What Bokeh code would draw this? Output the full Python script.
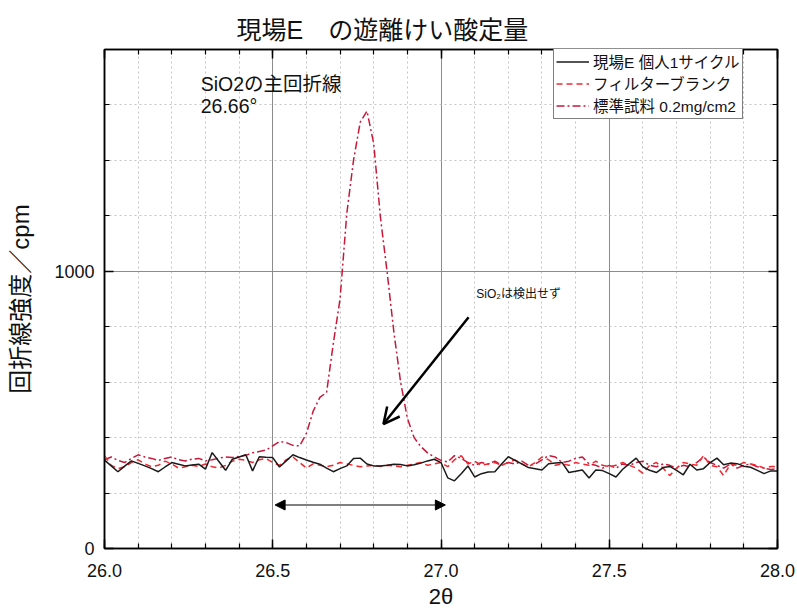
from bokeh.plotting import figure
from bokeh.models import (Range1d, FixedTicker, PrintfTickFormatter, LinearAxis, Label,
                          Arrow, OpenHead, NormalHead, Legend, LegendItem, ColumnDataSource)
from bokeh.embed import file_html
from bokeh.resources import INLINE

# ---------------- data ----------------
two_theta = [round(26.0 + 0.02 * i, 2) for i in range(101)]

site_e_personal = [
    319, 298, 277, 297, 316, 307, 298, 288, 277, 294,
    310, 304, 298, 301, 304, 286, 346, 314, 282, 322,
    330, 338, 280, 331, 329, 328, 294, 316, 338, 328,
    319, 311, 304, 290, 277, 288, 298, 325, 326, 305,
    298, 298, 300, 304, 303, 298, 302, 308, 316, 322,
    310, 255, 244, 270, 298, 258, 270, 276, 277, 305,
    331, 318, 305, 292, 288, 283, 306, 308, 310, 274,
    279, 283, 254, 283, 281, 270, 258, 286, 306, 326,
    295, 282, 274, 292, 296, 282, 266, 304, 283, 288,
    310, 326, 302, 308, 306, 297, 293, 282, 270, 280,
    280,
]

filter_blank = [
    335, 300, 288, 295, 310, 320, 305, 295, 300, 315,
    305, 290, 295, 300, 296, 305, 295, 290, 300, 315,
    322, 318, 310, 320, 325, 310, 300, 320, 330, 310,
    290, 305, 300, 295, 300, 310, 305, 300, 295, 298,
    300, 296, 300, 298, 295, 300, 305, 310, 300, 305,
    310, 295, 320, 335, 305, 315, 300, 305, 310, 300,
    310, 320, 305, 295, 310, 330, 320, 300, 305, 300,
    310, 305, 300, 315, 300, 295, 300, 310, 300, 290,
    271, 300, 310, 290, 263, 290, 310, 305, 300, 335,
    300, 295, 263, 305, 300, 310, 305, 300, 290, 296,
    295,
]

standard_sample = [
    320, 330, 318, 310, 325, 338, 330, 325, 318, 325,
    330, 320, 316, 322, 325, 316, 320, 326, 330, 328,
    332, 336, 345, 350, 355, 370, 386, 382, 372, 370,
    415, 495, 545, 563, 740, 900, 1208, 1400, 1538, 1578,
    1461, 1195, 996, 780, 600, 470, 400, 368, 345, 330,
    318, 312, 335, 325, 310, 300, 310, 305, 315, 300,
    310, 305, 315, 300, 305, 320, 335, 330, 310, 315,
    325, 330, 305, 300, 290, 300, 290, 305, 300, 310,
    315, 300, 295, 305, 300, 290, 300, 295, 310, 330,
    310, 300, 290, 305, 290, 300, 305, 295, 290, 285,
    288,
]

series_names = ["現場E 個人1サイクル", "フィルターブランク", "標準試料 0.2mg/cm2"]

x_major_ticks = [26.0, 26.5, 27.0, 27.5, 28.0]
x_minor_ticks = [round(26.0 + 0.1 * i, 1) for i in range(21)]
y_major_ticks = [0, 1000]
y_minor_ticks = [200 * i for i in range(10)]

title_text = "現場E　の遊離けい酸定量"
x_label = "2θ"
y_label = "回折線強度／cpm"
note_peak_1 = "SiO2の主回折線"
note_peak_2 = "26.66°"
note_nd = "SiO₂は検出せず"

# annotation anchors (data units)
peak_note_xy = (26.286, 1674)
peak_note2_xy = (26.286, 1595)
nd_note_xy = (27.105, 918)
arrow_from = (27.082, 834)
arrow_to = (26.829, 449)
span_from = (26.507, 157)
span_to = (27.013, 157)

JP = "'Liberation Sans', 'Noto Sans CJK JP'"
NUM = "Liberation Sans"

source = ColumnDataSource(dict(x=two_theta, a=site_e_personal, b=filter_blank, c=standard_sample))

p = figure(width=797, height=614, output_backend="svg", toolbar_location=None,
           x_range=Range1d(26.0, 28.0), y_range=Range1d(0, 1800),
           min_border_left=104, min_border_right=20, min_border_top=49, min_border_bottom=66)

p.background_fill_color = "white"
p.border_fill_color = "white"
p.outline_line_color = "black"
p.outline_line_width = 1.5

x_ticker = FixedTicker(ticks=x_major_ticks, minor_ticks=x_minor_ticks)
y_ticker = FixedTicker(ticks=y_major_ticks, minor_ticks=y_minor_ticks)


def style_axis(ax):
    ax.axis_line_color = "black"
    ax.axis_line_width = 1.5
    ax.major_tick_in = 9
    ax.major_tick_out = 0
    ax.minor_tick_in = 5
    ax.minor_tick_out = 0
    ax.major_tick_line_color = "black"
    ax.major_tick_line_width = 1.5
    ax.minor_tick_line_color = "black"
    ax.minor_tick_line_width = 1.2
    ax.major_label_text_font = NUM
    ax.major_label_text_font_size = "18px"
    ax.major_label_text_color = "#111111"
    ax.axis_label_text_font_style = "normal"
    ax.axis_label_text_color = "#111111"


xa = p.below[0]
xa.ticker = x_ticker
xa.formatter = PrintfTickFormatter(format="%.1f")
style_axis(xa)
xa.major_label_standoff = 15
xa.axis_label = x_label
xa.axis_label_text_font = NUM
xa.axis_label_text_font_size = "22px"
xa.axis_label_standoff = 4

ya = p.left[0]
ya.ticker = y_ticker
style_axis(ya)
ya.major_label_standoff = 10
ya.axis_label = y_label
ya.axis_label_text_font = JP
ya.axis_label_text_font_size = "24px"
ya.axis_label_standoff = 17

top_ax = LinearAxis(ticker=x_ticker, major_label_overrides={t: "" for t in x_major_ticks})
style_axis(top_ax)
top_ax.major_label_standoff = 0
p.add_layout(top_ax, "above")

right_ax = LinearAxis(ticker=y_ticker, major_label_overrides={t: "" for t in y_major_ticks})
style_axis(right_ax)
right_ax.major_label_standoff = 0
p.add_layout(right_ax, "right")

# grids
p.xgrid.ticker = FixedTicker(ticks=[26.5, 27.0, 27.5], minor_ticks=x_minor_ticks)
p.ygrid.ticker = FixedTicker(ticks=[1000], minor_ticks=y_minor_ticks)
for g in (p.xgrid[0], p.ygrid[0]):
    g.grid_line_color = "#8c8c8c"
    g.grid_line_width = 1
    g.minor_grid_line_color = "#c4c4c4"
    g.minor_grid_line_width = 1
    g.minor_grid_line_dash = "2 3"

# title
p.title.text = title_text
p.title.align = "left"
p.title.offset = 132
p.title.text_font = JP
p.title.text_font_size = "25px"
p.title.text_font_style = "normal"
p.title.text_color = "#111111"
p.title.standoff = 11

# series
r_std = p.line("x", "c", source=source, line_color="#c8183a", line_width=1.5, line_dash="8 3 2 3")
r_blank = p.line("x", "b", source=source, line_color="#ee2a30", line_width=1.5, line_dash="6 4")
r_site = p.line("x", "a", source=source, line_color="#1a1a1a", line_width=1.5)

legend = Legend(items=[LegendItem(label=series_names[0], renderers=[r_site]),
                       LegendItem(label=series_names[1], renderers=[r_blank]),
                       LegendItem(label=series_names[2], renderers=[r_std])],
                location=(449, 429))
legend.label_text_font = JP
legend.label_text_font_size = "15.5px"
legend.label_text_color = "#111111"
legend.glyph_width = 33
legend.glyph_height = 17
legend.label_height = 17
legend.label_standoff = 4
legend.spacing = 0
legend.padding = 2
legend.margin = 0
legend.border_line_color = "black"
legend.border_line_width = 1
legend.background_fill_color = "white"
legend.background_fill_alpha = 1
p.add_layout(legend)

# annotations
p.add_layout(Label(x=peak_note_xy[0], y=peak_note_xy[1], text=note_peak_1, text_font=JP,
                   text_font_size="19.5px", text_baseline="middle", text_color="#111111"))
p.add_layout(Label(x=peak_note2_xy[0], y=peak_note2_xy[1], text=note_peak_2, text_font=JP,
                   text_font_size="19.5px", text_baseline="middle", text_color="#111111"))
p.add_layout(Label(x=nd_note_xy[0], y=nd_note_xy[1], text=note_nd, text_font=JP,
                   text_font_size="12px", text_baseline="middle", text_color="#111111"))

p.add_layout(Arrow(x_start=arrow_from[0], y_start=arrow_from[1], x_end=arrow_to[0], y_end=arrow_to[1],
                   line_width=2.5, line_color="black",
                   end=OpenHead(size=16, line_width=2.5, line_color="black")))
p.add_layout(Arrow(x_start=span_from[0], y_start=span_from[1], x_end=span_to[0], y_end=span_to[1],
                   line_width=1.2, line_color="black",
                   start=NormalHead(size=10, fill_color="black", line_color="black"),
                   end=NormalHead(size=10, fill_color="black", line_color="black")))

open("out.html", "w").write(file_html(p, INLINE))
